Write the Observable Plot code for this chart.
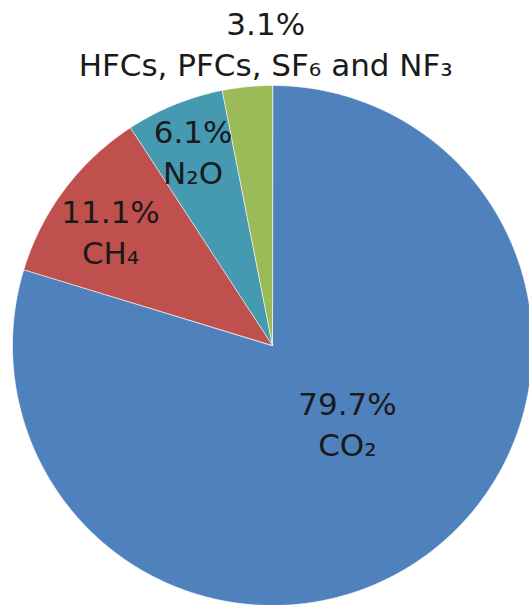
<!DOCTYPE html>
<html><head><meta charset="utf-8">
<script src="https://cdn.jsdelivr.net/npm/d3@7"></script>
<script src="https://cdn.jsdelivr.net/npm/@observablehq/plot@0.6"></script>
<style>body{margin:0;background:#fff;overflow:hidden}</style>
</head><body><div id="chart"></div>
<script>
// Data
const gases = ["CO₂", "CH₄", "N₂O", "HFCs, PFCs, SF₆ and NF₃"];
const shares = [79.7, 11.1, 6.1, 3.1];
const colors = ["#4f81bd", "#c0504d", "#4599b1", "#9bbb59"];

// label layout (radius in pie units, angular shift in degrees from mid-angle)
const labelRadius = [0.414, 0.764, 0.81, 1.166];
const labelShift = [-7.6, -1.5, 0, 4.3];

const total = d3.sum(shares);
let acc = 0;
const slices = shares.map((v, i) => {
  const a0 = acc / total * 2 * Math.PI;
  acc += v;
  const a1 = acc / total * 2 * Math.PI;
  return {gas: gases[i], value: v, a0, a1, color: colors[i], i};
});

function slicePoints(s) {
  const pts = [{x: 0, y: 0}];
  const n = Math.max(2, Math.ceil((s.a1 - s.a0) / (Math.PI / 360)));
  for (let k = 0; k <= n; k++) {
    const t = s.a0 + (s.a1 - s.a0) * k / n;
    pts.push({x: Math.sin(t), y: Math.cos(t)});
  }
  return pts;
}

const labels = slices.map(s => {
  const m = (s.a0 + s.a1) / 2 + labelShift[s.i] * Math.PI / 180;
  const r = labelRadius[s.i];
  return {x: r * Math.sin(m), y: r * Math.cos(m), text: d3.format(".1f")(s.value) + "%\n" + s.gas};
});

const R = 260;
const chart = Plot.plot({
  width: 529,
  height: 605,
  margin: 0,
  x: {domain: [-272 / R, 257 / R], axis: null},
  y: {domain: [-260 / R, 345 / R], axis: null},
  style: {background: "#fff"},
  marks: [
    ...slices.map(s => Plot.line(slicePoints(s), {
      x: "x", y: "y", curve: "linear-closed",
      fill: s.color, stroke: "#ffffff", strokeOpacity: 0.6, strokeWidth: 1
    })),
    Plot.text(labels, {
      x: "x", y: "y", text: "text",
      fontFamily: "DejaVu Sans", fontSize: 31, lineHeight: 1.32,
      fill: "#1a1a1a", textAnchor: "middle", lineAnchor: "middle"
    })
  ]
});
document.getElementById("chart").appendChild(chart);
</script>
</body></html>
